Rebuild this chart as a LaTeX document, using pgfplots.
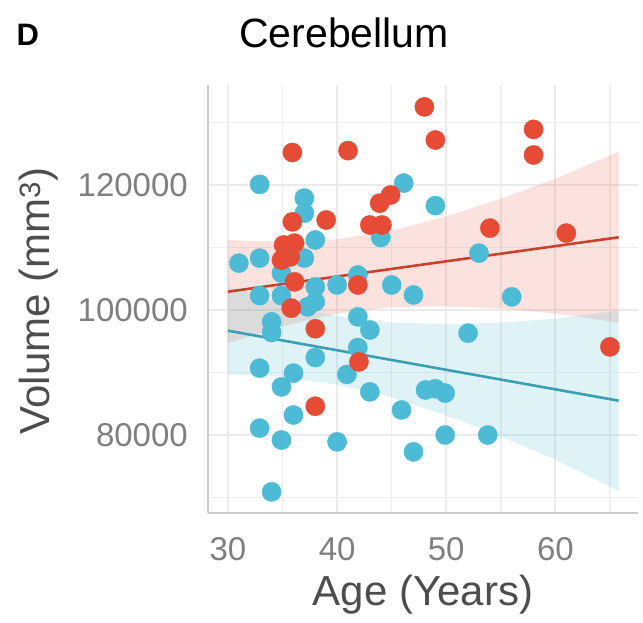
\documentclass[border=0pt]{standalone}
\usepackage{fontspec}
\setmainfont{Liberation Sans}
\usepackage{pgfplots}
\pgfplotsset{compat=1.18}

\definecolor{npgred}{HTML}{E64B35}
\definecolor{npgblue}{HTML}{4DBBD5}
\definecolor{redline}{HTML}{C8432F}
\definecolor{blueline}{HTML}{3A9FB2}
\definecolor{tickgray}{HTML}{7F7F7F}
\definecolor{titlegray}{HTML}{4D4D4D}

\begin{document}
\begin{tikzpicture}[x=1pt,y=1pt]
\useasboundingbox (0,0) rectangle (643,623);
\begin{axis}[
  at={(208pt,110pt)}, anchor=south west,
  width=430pt, height=428pt, scale only axis,
  xmin=28.17, xmax=67.57,
  ymin=67520, ymax=136000,
  axis x line*=bottom, axis y line*=left,
  axis line style={draw=gray!40, line width=2pt},
  major tick length=0pt, minor tick length=0pt,
  xtick={30,40,50,60}, xticklabels={30,40,50,60},
  minor xtick={35,45,55,65},
  ytick={80000,100000,120000}, yticklabels={80000,100000,120000},
  minor ytick={70000,90000,110000,130000},
  scaled y ticks=false,
  grid=both,
  major grid style={draw=gray!16, line width=2pt},
  minor grid style={draw=gray!13, line width=1.6pt},
  /pgf/number format/assume math mode=true,
  ticklabel style={font=\fontsize{33}{33}\selectfont, text=tickgray, inner sep=0pt},
  xticklabel style={anchor=north, yshift=-24pt},
  yticklabel style={anchor=east, xshift=-20pt},
  clip=false,
]
% data points
\addplot[npgblue, only marks, mark=*, mark size=9.6pt, mark options={draw=npgblue, fill=npgblue}] coordinates {
(32.9,120100) (37.0,117900) (37.0,115500) (38.0,111200) (46.1,120300)
(49.0,116700) (44.0,111600) (31.0,107500) (32.9,108300) (37.0,108300)
(34.9,105900) (38.0,103700) (40.0,104000) (32.9,102300) (34.9,102300)
(38.0,101300) (37.3,100500) (41.9,105600) (45.0,104000) (47.0,102400)
(53.0,109100) (56.0,102100) (34.0,98100) (34.0,96400) (41.9,98900)
(43.0,96800) (41.9,94000) (38.0,92400) (32.9,90700) (36.0,89900)
(34.9,87700) (40.9,89700) (43.0,86900) (48.1,87200) (49.0,87400)
(49.9,86700) (45.9,84000) (36.0,83200) (32.9,81100) (34.9,79200)
(40.0,78900) (47.0,77300) (49.9,80000) (53.8,80000) (52.0,96300)
(34.0,70900)
};
\addplot[npgred, only marks, mark=*, mark size=9.6pt, mark options={draw=npgred, fill=npgred}] coordinates {
(48.0,132500) (49.0,127200) (41.0,125500) (35.9,125200) (58.0,128900)
(58.0,124800) (44.9,118400) (43.9,117100) (35.9,114100) (39.0,114400)
(43.0,113600) (44.1,113600) (54.0,113100) (61.0,112300) (35.1,110400)
(36.1,110700) (34.9,108000) (35.7,108500) (36.1,104500) (41.9,104000)
(35.8,100300) (38.0,97000) (42.0,91700) (38.0,84600) (65.0,94100)
};
% confidence bands
\addplot[draw=none, fill=npgred, fill opacity=0.16] coordinates {
(30,111200) (35,110900) (40,111300) (45,112700) (50,115000) (55,117800) (60,121000) (65.8,125300)
(65.8,97960) (60,99440) (55,100210) (50,100580) (45,100450) (40,99420) (35,97390) (30,94660)
} -- cycle;
\addplot[draw=none, fill=npgblue, fill opacity=0.18] coordinates {
(30,103690) (35,100926) (40,99062) (45,97998) (50,97734) (55,97970) (60,98606) (65.8,99890)
(65.8,71090) (60,76006) (55,79770) (50,83134) (45,85998) (40,88062) (35,89326) (30,89690)
} -- cycle;
% fitted lines
\addplot[redline, line width=2.6pt] coordinates {(30,102930) (65.8,111630)};
\addplot[blueline, line width=2.6pt] coordinates {(30,96690) (65.8,85490)};
\end{axis}
\node[anchor=base, font=\fontsize{42}{42}\selectfont, text=titlegray] at (423,17) {Age (Years)};
\node[anchor=base, rotate=90, font=\fontsize{42}{42}\selectfont, text=titlegray] at (50,322) {Volume (mm\textsuperscript{3})};
\node[anchor=base, font=\fontsize{41}{41}\selectfont, text=black] at (344,575) {Cerebellum};
\node[anchor=base west, font=\fontsize{31}{31}\selectfont\bfseries, text=black] at (13,577) {D};
\end{tikzpicture}
\end{document}
